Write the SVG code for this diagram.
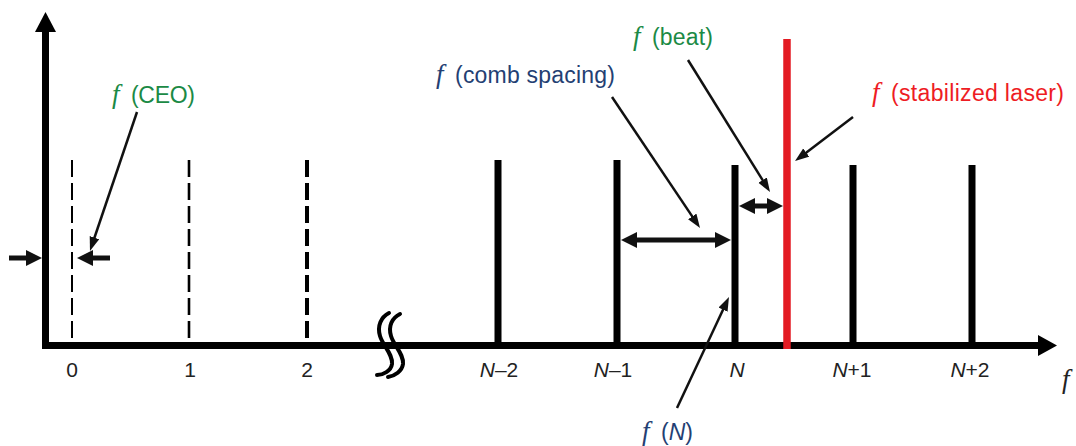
<svg xmlns="http://www.w3.org/2000/svg" width="1076" height="446" viewBox="0 0 1076 446">
<style>
.lbl{font-family:"Liberation Sans",Arial,sans-serif;font-size:23px}
.fi{font-family:"Liberation Serif","Times New Roman",serif;font-style:italic;font-size:27px}
.ax{font-family:"Liberation Sans",Arial,sans-serif;font-size:21px;fill:#222;text-anchor:middle}
.it{font-style:italic}
.green{fill:#1b8a45}
.blue{fill:#243f73}
.red{fill:#ee1c24}
.lead{stroke:#111;stroke-width:2.5;fill:none;marker-end:url(#ah)}
.dbl{stroke:#111;stroke-width:5;fill:none;marker-start:url(#dh);marker-end:url(#dh)}
.sgl{stroke:#111;stroke-width:5;fill:none;marker-end:url(#dh)}
.tooth{stroke:#000;stroke-width:7}
.dash{stroke:#000;stroke-dasharray:17 6}
</style>
<defs>
<marker id="ah" markerUnits="userSpaceOnUse" markerWidth="15" markerHeight="11" refX="3" refY="5" orient="auto"><path d="M0,0 L14,5 L0,10 z" fill="#111"/></marker>
<marker id="dh" markerUnits="userSpaceOnUse" markerWidth="17" markerHeight="17" refX="3" refY="8" orient="auto-start-reverse"><path d="M0,0 L16,8 L0,16 z" fill="#111"/></marker>
</defs>
<rect width="1076" height="446" fill="#fff"/>
<g id="axes">
<line x1="45.5" y1="349" x2="45.5" y2="30" stroke="#000" stroke-width="7"/>
<polygon points="45.5,12 35,32 56,32" fill="#000"/>
<line x1="42" y1="345.5" x2="1040" y2="345.5" stroke="#000" stroke-width="7"/>
<polygon points="1057,345.5 1038,335 1038,356" fill="#000"/>
<path d="M389,313 C381,317 377,326 380,336 C383,346 393,354 392,364 C391,371 383,375 377,375" stroke="#000" stroke-width="4" fill="none" stroke-linecap="round"/>
<path d="M400,314 C392,318 388,326 391,336 C394,346 404,354 403,364 C402,371 395,376 388,377" stroke="#000" stroke-width="4" fill="none" stroke-linecap="round"/>
<text class="fi" x="1062" y="388" fill="#222">f</text>
</g>
<g id="mode-0"><line class="dash" x1="72" y1="160" x2="72" y2="345" stroke-width="2"/><text class="ax" x="72" y="377">0</text></g>
<g id="mode-1"><line class="dash" x1="189" y1="160" x2="189" y2="345" stroke-width="2.6"/><text class="ax" x="190" y="377">1</text></g>
<g id="mode-2"><line class="dash" x1="307" y1="160" x2="307" y2="345" stroke-width="4"/><text class="ax" x="307" y="377">2</text></g>
<g id="mode-N-2"><line class="tooth" x1="498" y1="160" x2="498" y2="345"/><text class="ax" x="499" y="377"><tspan class="it">N</tspan>–2</text></g>
<g id="mode-N-1"><line class="tooth" x1="617" y1="160" x2="617" y2="345"/><text class="ax" x="613" y="377"><tspan class="it">N</tspan>–1</text></g>
<g id="mode-N"><line class="tooth" x1="735" y1="165" x2="735" y2="345"/><text class="ax" x="737" y="377"><tspan class="it">N</tspan></text></g>
<g id="mode-N+1"><line class="tooth" x1="853" y1="165" x2="853" y2="345"/><text class="ax" x="852" y="377"><tspan class="it">N</tspan>+1</text></g>
<g id="mode-N+2"><line class="tooth" x1="972" y1="165" x2="972" y2="345"/><text class="ax" x="970" y="377"><tspan class="it">N</tspan>+2</text></g>
<g id="laser"><line x1="787" y1="39" x2="787" y2="349" stroke="#e31b23" stroke-width="7.5"/></g>
<g id="label-ceo"><text class="green" y="103"><tspan class="fi" x="112">f</tspan><tspan class="lbl" x="131" textLength="64" lengthAdjust="spacing">(CEO)</tspan></text></g>
<g id="label-comb"><text class="blue" y="83"><tspan class="fi" x="436">f</tspan><tspan class="lbl" x="455" textLength="160" lengthAdjust="spacing">(comb spacing)</tspan></text></g>
<g id="label-beat"><text class="green" y="45"><tspan class="fi" x="633">f</tspan><tspan class="lbl" x="652" textLength="61" lengthAdjust="spacing">(beat)</tspan></text></g>
<g id="label-laser"><text class="red" y="101"><tspan class="fi" x="872">f</tspan><tspan class="lbl" x="891" textLength="173" lengthAdjust="spacing">(stabilized laser)</tspan></text></g>
<g id="label-fN"><text class="blue" y="440"><tspan class="fi" x="642">f</tspan><tspan class="lbl" x="661" textLength="32" lengthAdjust="spacing">(<tspan class="it">N</tspan>)</tspan></text></g>
<g id="connectors">
<line class="lead" x1="137" y1="112" x2="93.5" y2="240.5"/>
<line class="lead" x1="612" y1="97" x2="693.9" y2="218.9"/>
<line class="lead" x1="688" y1="60" x2="764.2" y2="182.7"/>
<line class="lead" x1="853" y1="117" x2="803.8" y2="154.4"/>
<line class="lead" x1="677" y1="408" x2="724.3" y2="307"/>
<line class="dbl" x1="634" y1="240" x2="718" y2="240"/>
<line class="dbl" x1="752" y1="206" x2="770" y2="206"/>
<line class="sgl" x1="9" y1="258" x2="29" y2="258"/>
<line class="sgl" x1="110" y1="258" x2="90" y2="258"/>
</g>
</svg>
